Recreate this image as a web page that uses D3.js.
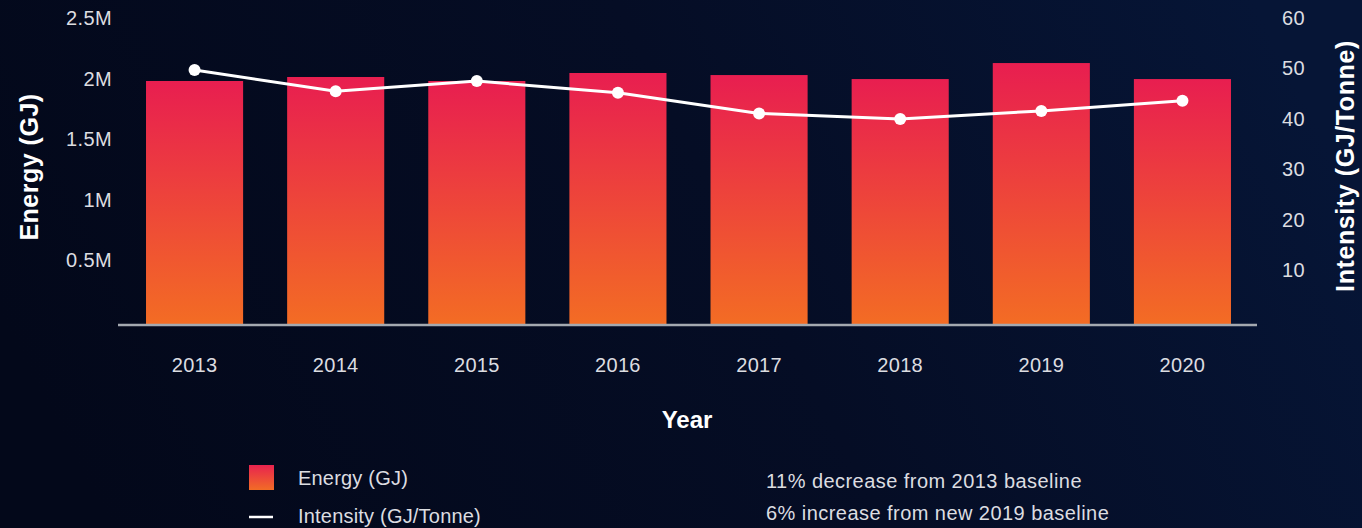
<!DOCTYPE html>
<html>
<head>
<meta charset="utf-8">
<script src="https://cdn.jsdelivr.net/npm/d3@7"></script>
<style>
  html, body { margin: 0; padding: 0; background: #040a1e; }
  svg { display: block; }
  text { font-family: "Liberation Sans", Arial, Helvetica, sans-serif; }
</style>
</head>
<body>
<svg id="chart" width="1362" height="528"></svg>
<script>
// Yearly energy use (bars) and energy intensity (line)
const years = ["2013", "2014", "2015", "2016", "2017", "2018", "2019", "2020"];
const energy = [2005000, 2038000, 2005000, 2071000, 2054000, 2021000, 2153000, 2021000];
const intensity = [50.3, 46.1, 48.1, 45.8, 41.7, 40.6, 42.2, 44.2];
const energyTicks = [500000, 1000000, 1500000, 2000000, 2500000];
const intensityTicks = [10, 20, 30, 40, 50, 60];
const legendLabels = ["Energy (GJ)", "Intensity (GJ/Tonne)"];
const notes = ["11% decrease from 2013 baseline", "6% increase from new 2019 baseline"];

const W = 1362, H = 528;
const svg = d3.select("#chart");
const defs = svg.append("defs");

// background wash
const bg = defs.append("linearGradient").attr("id", "bg")
  .attr("x1", "0%").attr("y1", "60%").attr("x2", "100%").attr("y2", "40%");
bg.append("stop").attr("offset", "0%").attr("stop-color", "#03081a");
bg.append("stop").attr("offset", "55%").attr("stop-color", "#050d25");
bg.append("stop").attr("offset", "100%").attr("stop-color", "#061536");
svg.append("rect").attr("width", W).attr("height", H).attr("fill", "url(#bg)");

// bar fill: crimson at top, orange at bottom
const barGrad = defs.append("linearGradient").attr("id", "barGrad")
  .attr("x1", 0).attr("y1", 0).attr("x2", 0).attr("y2", 1);
barGrad.append("stop").attr("offset", "0%").attr("stop-color", "#e81e50");
barGrad.append("stop").attr("offset", "100%").attr("stop-color", "#f36c24");

const x = d3.scaleBand().domain(years).range([124, 1253])
  .paddingInner(0.312).paddingOuter(0.156);
const yE = d3.scaleLinear().domain([0, 2500000]).range([324, 21]);
const yI = d3.scaleLinear().domain([0, 60]).range([324, 21]);

const labelColor = "#dcdde1";
const tickFont = "20px";

// left axis
const left = svg.append("g").attr("transform", "translate(118,0)")
  .call(d3.axisLeft(yE).tickValues(energyTicks)
    .tickFormat(d => (d / 1e6) + "M").tickSize(0).tickPadding(6));
left.select(".domain").remove();
left.selectAll("text").attr("fill", labelColor).attr("font-size", tickFont)
  .attr("y", -3).style("letter-spacing", "0.4px");

// right axis
const right = svg.append("g").attr("transform", "translate(1257,0)")
  .call(d3.axisRight(yI).tickValues(intensityTicks).tickSize(0).tickPadding(25));
right.select(".domain").remove();
right.selectAll("text").attr("fill", labelColor).attr("font-size", tickFont)
  .attr("y", -3).style("letter-spacing", "0.4px");

// bars
svg.append("g").selectAll("rect").data(years).join("rect")
  .attr("x", d => x(d))
  .attr("width", x.bandwidth())
  .attr("y", (d, i) => yE(energy[i]))
  .attr("height", (d, i) => yE(0) - yE(energy[i]))
  .attr("fill", "url(#barGrad)");

// baseline
svg.append("line").attr("x1", 118).attr("x2", 1257)
  .attr("y1", yE(0) + 1).attr("y2", yE(0) + 1)
  .attr("stroke", "#a4a9b0").attr("stroke-width", 2.5);

// bottom axis labels
const bottom = svg.append("g").attr("transform", `translate(0,${yE(0)})`)
  .call(d3.axisBottom(x).tickSize(0).tickPadding(34));
bottom.select(".domain").remove();
bottom.selectAll("text").attr("fill", labelColor).attr("font-size", tickFont)
  .style("letter-spacing", "0.3px");

// intensity line and markers
const line = d3.line()
  .x((d, i) => x(years[i]) + x.bandwidth() / 2)
  .y(d => yI(d));
svg.append("path").datum(intensity)
  .attr("d", line).attr("fill", "none")
  .attr("stroke", "#ffffff").attr("stroke-width", 3);
svg.append("g").selectAll("circle").data(intensity).join("circle")
  .attr("cx", (d, i) => x(years[i]) + x.bandwidth() / 2)
  .attr("cy", d => yI(d))
  .attr("r", 6).attr("fill", "#ffffff");

// axis titles
svg.append("text").attr("transform", "translate(38,167) rotate(-90)")
  .attr("text-anchor", "middle").attr("fill", "#ffffff")
  .attr("font-size", "25px").attr("font-weight", "bold")
  .style("letter-spacing", "0.5px").text("Energy (GJ)");
svg.append("text").attr("transform", "translate(1354,166) rotate(-90)")
  .attr("text-anchor", "middle").attr("fill", "#ffffff")
  .attr("font-size", "25px").attr("font-weight", "bold")
  .style("letter-spacing", "0.6px").text("Intensity (GJ/Tonne)");
svg.append("text").attr("x", 687).attr("y", 428)
  .attr("text-anchor", "middle").attr("fill", "#ffffff")
  .attr("font-size", "24px").attr("font-weight", "bold")
  .text("Year");

// legend
const legGrad = defs.append("linearGradient").attr("id", "legGrad")
  .attr("x1", 0).attr("y1", 0).attr("x2", 0).attr("y2", 1);
legGrad.append("stop").attr("offset", "0%").attr("stop-color", "#e8234f");
legGrad.append("stop").attr("offset", "100%").attr("stop-color", "#f26c26");
svg.append("rect").attr("x", 249).attr("y", 465).attr("width", 25).attr("height", 25)
  .attr("fill", "url(#legGrad)");
svg.append("line").attr("x1", 249).attr("x2", 273).attr("y1", 517).attr("y2", 517)
  .attr("stroke", "#ffffff").attr("stroke-width", 2.5);
const legY = [478, 516];
svg.append("g").selectAll("text").data(legendLabels).join("text")
  .attr("x", 298).attr("y", (d, i) => legY[i]).attr("dy", "0.36em")
  .attr("fill", labelColor).attr("font-size", tickFont)
  .style("letter-spacing", "0.2px").text(d => d);

// notes
const noteY = [481, 513];
svg.append("g").selectAll("text").data(notes).join("text")
  .attr("x", 766).attr("y", (d, i) => noteY[i]).attr("dy", "0.36em")
  .attr("fill", labelColor).attr("font-size", tickFont)
  .style("letter-spacing", "0.45px").text(d => d);
</script>
</body>
</html>
